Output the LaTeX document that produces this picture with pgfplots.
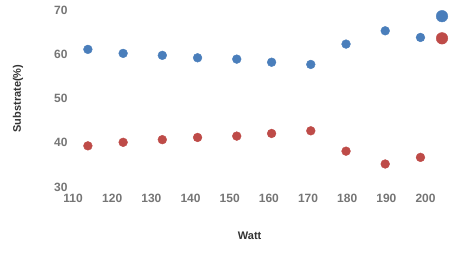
\documentclass[border=0pt]{standalone}
\usepackage{fontspec}
\setmainfont{Liberation Sans}
\usepackage{pgfplots}
\pgfplotsset{compat=1.18}
\definecolor{cblue}{HTML}{4A7EBB}
\definecolor{cred}{HTML}{BE4B48}
\definecolor{tickgray}{HTML}{757575}
\definecolor{labgray}{HTML}{333333}
\begin{document}
\begin{tikzpicture}
\path[use as bounding box] (-73pt,-70pt) rectangle (396pt,187pt);
\begin{axis}[
  at={(0,0)}, anchor=origin,
  scale only axis, width=380pt, height=177pt,
  xmin=110, xmax=207, ymin=30, ymax=70,
  axis line style={draw=none},
  tick style={draw=none},
  xtick={110,120,...,200}, ytick={30,40,...,70},
  clip=false,
  /pgf/number format/assume math mode=true,
  tick label style={font=\fontsize{12}{13}\selectfont\bfseries, text=tickgray},
  xticklabel style={yshift=-4pt},
  yticklabel style={xshift=-2pt},
  xlabel={Watt}, ylabel={Substrate(\%)},
  every axis x label/.style={at={(axis description cs:0.465,0)}, anchor=center, yshift=-49pt, font=\fontsize{11}{12}\selectfont\bfseries, text=labgray},
  every axis y label/.style={at={(axis description cs:0,0.5)}, xshift=-55pt, rotate=90, anchor=center, font=\fontsize{11}{12}\selectfont\bfseries, text=labgray},
]
\addplot[only marks, mark=*, mark size=4.4pt, color=cblue] coordinates {
(113.8,61.1) (122.8,60.2) (132.8,59.75) (141.8,59.2) (151.8,58.9) (160.7,58.2) (170.7,57.7) (179.7,62.3) (189.7,65.3) (198.7,63.8)};
\addplot[only marks, mark=*, mark size=4.4pt, color=cred] coordinates {
(113.8,39.3) (122.8,40.1) (132.8,40.7) (141.8,41.2) (151.8,41.5) (160.7,42.1) (170.7,42.7) (179.7,38.1) (189.7,35.2) (198.7,36.7)};
\addplot[only marks, mark=*, mark size=5.8pt, color=cblue] coordinates {(204.2,68.6)};
\addplot[only marks, mark=*, mark size=5.8pt, color=cred] coordinates {(204.2,63.6)};
\end{axis}
\end{tikzpicture}
\end{document}
